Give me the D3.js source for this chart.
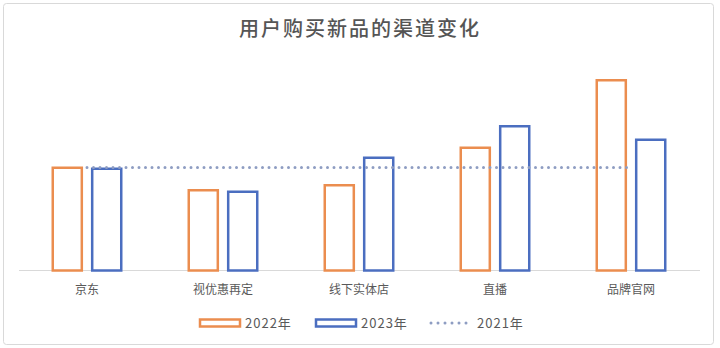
<!DOCTYPE html>
<html><head><meta charset="utf-8">
<script src="https://cdn.jsdelivr.net/npm/d3@7"></script>
<style>html,body{margin:0;padding:0;background:#fff;}svg{display:block;font-family:"Noto Sans CJK SC","Noto Sans",sans-serif;}</style>
</head><body><svg id="c" width="720" height="348"></svg>
<script>
const categories = ["京东", "视优惠再定", "线下实体店", "直播", "品牌官网"];
const seriesNames = ["2022年", "2023年", "2021年"];
const values2022 = [20.8, 16.3, 17.3, 24.8, 38.3];
const values2023 = [20.6, 16.0, 22.8, 29.1, 26.4];
const values2021 = [20.6, 20.6, 20.6, 20.6, 20.6];
const title = "用户购买新品的渠道变化";

const colors = {"2022年": "#EB8D4F", "2023年": "#4B6EC0", "2021年": "#8E9DC2"};
const svg = d3.select("#c");

svg.append("rect").attr("x", 3.5).attr("y", 3.5).attr("width", 710).attr("height", 341)
  .attr("rx", 3).attr("fill", "#fff").attr("stroke", "#d9d9d9").attr("stroke-width", 1);

svg.append("text").attr("x", 360).attr("y", 36).attr("text-anchor", "middle")
  .attr("font-size", 20).attr("letter-spacing", 2).attr("font-weight", 500).attr("fill", "#555").text(title);

const x0 = d3.scaleBand().domain(categories).range([19, 699]).paddingInner(0.478).paddingOuter(0.239);
const x1 = d3.scaleBand().domain(["2022年", "2023年"]).range([0, x0.bandwidth()]).paddingInner(0.2);
const y = d3.scaleLinear().domain([0, 40]).range([270.5, 70.5]);

// baseline axis
const xAxis = d3.axisBottom(x0).tickSize(0).tickPadding(15);
const ax = svg.append("g").attr("transform", "translate(0,270.5)").call(xAxis);
ax.attr("font-size", 12).attr("font-family", "Noto Sans CJK SC");
ax.select(".domain").attr("stroke", "#d9d9d9").attr("d", "M19,0H700");
ax.selectAll("text").attr("fill", "#595959");

const rows = categories.map((c, i) => ({c, "2022年": values2022[i], "2023年": values2023[i]}));
const sw = 2.5;
const g = svg.append("g");
rows.forEach(r => {
  ["2022年", "2023年"].forEach(s => {
    const bx = x0(r.c) + x1(s);
    g.append("rect")
      .attr("x", bx + sw / 2).attr("y", y(r[s]) + sw / 2)
      .attr("width", x1.bandwidth() - sw).attr("height", y(0) - y(r[s]) - sw / 2)
      .attr("fill", "none").attr("stroke", colors[s]).attr("stroke-width", sw);
  });
});

const line = d3.line().x((d, i) => x0(categories[i]) + x0.bandwidth() / 2).y(d => y(d));
svg.append("path").datum(values2021).attr("d", line).attr("fill", "none")
  .attr("stroke", colors["2021年"]).attr("stroke-width", 3).attr("stroke-linecap", "round")
  .attr("stroke-dasharray", "0 6.5");

// legend
const leg = svg.append("g").attr("font-size", 13).attr("fill", "#595959");
const legItems = [
  {name: "2022年", x: 199, type: "bar"},
  {name: "2023年", x: 315, type: "bar"},
  {name: "2021年", x: 431, type: "line"}
];
legItems.forEach(it => {
  if (it.type === "bar") {
    leg.append("rect").attr("x", it.x + 1).attr("y", 319.5).attr("width", 40).attr("height", 7)
      .attr("fill", "none").attr("stroke", colors[it.name]).attr("stroke-width", sw);
  } else {
    leg.append("path").attr("d", `M${it.x},323H${it.x + 40}`).attr("stroke", colors[it.name])
      .attr("stroke-width", 3).attr("stroke-linecap", "round").attr("stroke-dasharray", "0 7");
  }
  leg.append("text").attr("x", it.x + 46).attr("y", 327.5).attr("letter-spacing", 1)
    .attr("fill", "#595959").text(it.name);
});
</script></body></html>
